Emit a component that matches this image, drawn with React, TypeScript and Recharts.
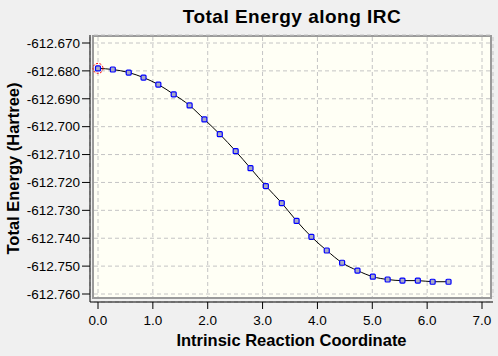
import { LineChart, Line, XAxis, YAxis, CartesianGrid, Label } from "recharts";

const ircCoord = [0, 0.27, 0.56, 0.83, 1.1, 1.38, 1.67, 1.94, 2.22, 2.51, 2.78, 3.06, 3.35, 3.62, 3.89, 4.17, 4.45, 4.73, 5.01, 5.28, 5.55, 5.83, 6.1, 6.39];
const totalEnergy = [
  -612.6791, -612.6795, -612.6806, -612.6824, -612.6849, -612.6884, -612.6924, -612.6974,
  -612.7027, -612.7088, -612.7149, -612.7213, -612.7274, -612.7338, -612.7395, -612.7444,
  -612.7488, -612.7516, -612.7538, -612.7548, -612.7552, -612.7552, -612.7556, -612.7556,
];
const xTicks = [0, 1, 2, 3, 4, 5, 6, 7];
const yTicks = [-612.76, -612.75, -612.74, -612.73, -612.72, -612.71, -612.7, -612.69, -612.68, -612.67];

// minor ticks: every 0.1 on x, halfway between majors on y
const xMinor: number[] = [];
for (let i = 0; i <= 70; i++) xMinor.push(i / 10);
const yMinor: number[] = [];
for (let i = 0; i < yTicks.length - 1; i++) yMinor.push(yTicks[i], (yTicks[i] + yTicks[i + 1]) / 2);
yMinor.push(yTicks[yTicks.length - 1]);

const data = ircCoord.map((x, i) => ({ x, e: totalEnergy[i] }));

const font = '"Liberation Sans", Arial, sans-serif';
const xDomain: [number, number] = [0, 7];
const yDomain: [number, number] = [-612.76, -612.67];
const xPad = { left: 8, right: 11 };
const yPad = { top: 8, bottom: 8 };

const NoTick = () => <g />;

const Dot = (props: any) => {
  const { cx, cy, index } = props;
  return (
    <g key={`d${index}`}>
      <rect x={cx - 2.5} y={cy - 2.5} width={5} height={5} rx={1} fill="#A9AAC4" stroke="#0000FF" strokeWidth={1.2} />
      {index === 0 && <circle cx={cx} cy={cy} r={5} fill="none" stroke="#FF0000" strokeWidth={1} strokeDasharray="2 1.5" />}
    </g>
  );
};

export default function App() {
  return (
    <div style={{ position: "relative", width: 498, height: 356, background: "#F0F0F0", fontFamily: font }}>
      <style>{`body{margin:0;background:#F0F0F0}`}</style>
      <div
        style={{
          position: "absolute", left: 92, top: 35, width: 400, height: 264, boxSizing: "border-box",
          background: "#FFFFF5", border: "2px solid #9A9A9A",
        }}
      />
      <div
        style={{
          position: "absolute", left: 92, top: 7, width: 400, textAlign: "center",
          fontSize: 19, fontWeight: "bold", lineHeight: "19px", letterSpacing: 0.5, color: "#000",
        }}
      >
        Total Energy along IRC
      </div>
      <div style={{ position: "absolute", left: 0, top: 0 }}>
        <LineChart width={498} height={356} data={data} margin={{ top: 35, right: 5, bottom: 0, left: 0 }}>
          <CartesianGrid x={94} y={37} width={396} height={260} stroke="#C4C4C4" strokeDasharray="4 3" fill="none" />
          <XAxis
            xAxisId="minor" dataKey="x" type="number" domain={xDomain} ticks={xMinor} interval={0}
            padding={xPad} height={0} tickSize={4} tick={NoTick} axisLine={false}
            tickLine={{ stroke: "#000" }}
          />
          <XAxis
            dataKey="x" type="number" domain={xDomain} ticks={xTicks} interval={0} padding={xPad}
            height={54} tickSize={7} tickMargin={6} tickFormatter={(v: number) => v.toFixed(1)}
            axisLine={{ stroke: "#000" }} tickLine={{ stroke: "#000" }}
            tick={{ fill: "#000", fontSize: 13.5, fontFamily: font }}
          >
            <Label
              value="Intrinsic Reaction Coordinate" position="insideBottom" offset={10}
              style={{ fontSize: 16.5, fontWeight: "bold", fill: "#000", fontFamily: font }}
            />
          </XAxis>
          <YAxis
            yAxisId="minor" type="number" domain={yDomain} ticks={yMinor} interval={0} padding={yPad}
            width={0} tickSize={4} tick={NoTick} axisLine={false} tickLine={{ stroke: "#000" }}
          />
          <YAxis
            type="number" domain={yDomain} ticks={yTicks} interval={0} padding={yPad} width={90}
            tickSize={8} tickMargin={2} tickFormatter={(v: number) => v.toFixed(3)}
            axisLine={{ stroke: "#000" }} tickLine={{ stroke: "#000" }}
            tick={{ fill: "#000", fontSize: 13.5, fontFamily: font }}
          >
            <Label
              value="Total Energy (Hartree)" position="insideLeft" angle={-90} offset={13}
              style={{ fontSize: 16.5, fontWeight: "bold", fill: "#000", fontFamily: font, textAnchor: "middle" }}
            />
          </YAxis>
          <Line
            dataKey="e" type="monotone" stroke="#000" strokeWidth={1} dot={Dot}
            activeDot={false} isAnimationActive={false}
          />
        </LineChart>
      </div>
    </div>
  );
}
